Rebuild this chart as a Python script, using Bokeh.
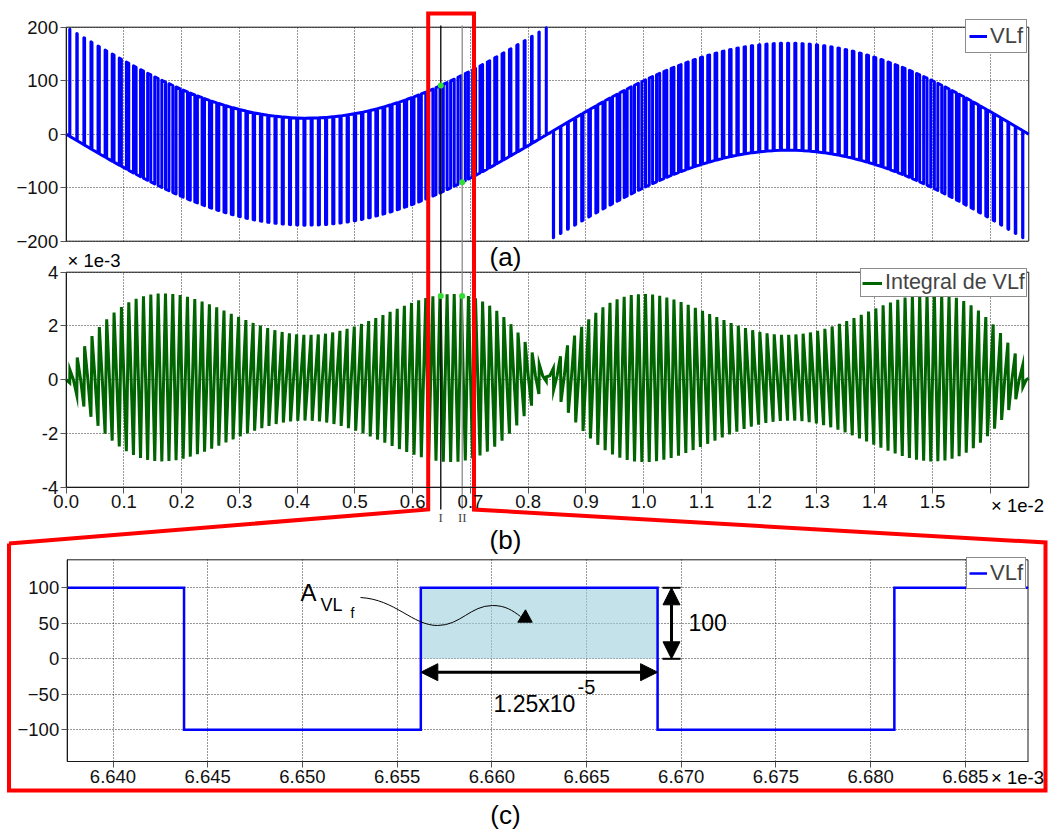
import numpy as np
from bokeh.plotting import figure
from bokeh.models import (Range1d, LinearAxis, Grid, FixedTicker, CustomJSTickFormatter,
                          BasicTickFormatter, Legend, LegendItem, Label, Arrow, NormalHead)
from bokeh.core.properties import value
from bokeh.embed import file_html
from bokeh.resources import INLINE

# ---------------- values ----------------
V_DC = 200.0          # rail of the switched voltage (V)
V_PEAK = 170.0        # peak of the sinusoidal output (V)
F_LINE = 60.0         # line frequency (Hz)
T_SW = 125e-6         # switching period seen in (a)/(b) (s)
T_END = 1.0 / 60.0    # end of the time axis (s)

t_ticks = [0.000, 0.001, 0.002, 0.003, 0.004, 0.005, 0.006, 0.007, 0.008,
           0.009, 0.010, 0.011, 0.012, 0.013, 0.014, 0.015, 0.016]
a_ticks = [-200, -100, 0, 100, 200]
b_ticks = [-0.004, -0.002, 0.0, 0.002, 0.004]

cursor_t = [0.006486, 0.006857]
cursor_labels = ["I", "II"]
cursor_colors = ["#000000", "#8c8c8c"]
dot_a = [91.0, -90.0]
dot_b = [0.00311, 0.00311]
zoom_t = [0.006268, 0.007061]

c_edges = [0.00664375, 0.00665625, 0.00666875, 0.00668125]
c_levels = [100, -100, 100, -100, 100]
c_xticks = [0.006640, 0.006645, 0.006650, 0.006655, 0.006660,
            0.006665, 0.006670, 0.006675, 0.006680, 0.006685]
c_yticks = [-100, -50, 0, 50, 100]
area_t = [0.00665625, 0.00666875]
area_v = [0.0, 100.0]

# ---------------- canvas geometry ----------------
W, H = 1048, 833


def xrange_from(v1, p1, v2, p2):
    k = (v2 - v1) / (p2 - p1)
    return Range1d(start=v1 - p1 * k, end=v1 + (W - p1) * k)


def yrange_from(v1, p1, v2, p2):
    k = (v2 - v1) / (p2 - p1)
    return Range1d(start=v1 + (H - p1) * k, end=v1 - p1 * k)


def x_at(r, X):
    return r.start + X / W * (r.end - r.start)


def y_at(r, Y):
    return r.end - Y / H * (r.end - r.start)


def x_px(r, v):
    return (v - r.start) / (r.end - r.start) * W


rt = xrange_from(0.0, 65.7, 0.015, 932.0)
ra = yrange_from(200, 26.7, -200, 240.7)
rb = yrange_from(0.004, 271.7, -0.004, 486.7)
rtc = xrange_from(0.006640, 112.5, 0.006685, 964.9)
rc = yrange_from(100, 587.3, -100, 729.3)

c_left, c_right = x_at(rtc, 66.7), x_at(rtc, 1027.5)
c_top, c_bot = y_at(rc, 559.3), y_at(rc, 761.0)

# ---------------- waveforms ----------------


def v_out(t):
    return V_PEAK * np.sin(2 * np.pi * F_LINE * t)


pts = []
k = 0
while k * T_SW < T_END:
    t0 = k * T_SW
    tcen = t0 + T_SW / 2
    vc = v_out(tcen)
    half = abs(vc) / V_DC * T_SW / 2
    rail = V_DC if vc >= 0 else -V_DC
    t_on, t_off = tcen - half, tcen + half
    pts.append((t0, -v_out(t0)))
    if t_on < T_END:
        pts.append((t_on, -v_out(t_on)))
        pts.append((t_on, rail - v_out(t_on)))
        te = min(t_off, T_END)
        pts.append((te, rail - v_out(te)))
        if t_off < T_END:
            pts.append((t_off, -v_out(t_off)))
    k += 1
pts.append((T_END, -v_out(T_END)))
ta = np.array([q[0] for q in pts])
va = np.array([q[1] for q in pts])
ib = np.concatenate([[0.0], np.cumsum(0.5 * (va[1:] + va[:-1]) * np.diff(ta))])

xc_line = [c_left]
yc_line = [c_levels[0]]
for i, e in enumerate(c_edges):
    xc_line += [e, e]
    yc_line += [c_levels[i], c_levels[i + 1]]
xc_line.append(c_right)
yc_line.append(c_levels[-1])

# ---------------- figure ----------------
p = figure(width=W, height=H, x_range=Range1d(0, W), y_range=Range1d(H, 0),
           x_axis_type=None, y_axis_type=None, toolbar_location=None,
           output_backend="svg", min_border=0, outline_line_color=None,
           background_fill_color="white", border_fill_color="white")
p.title.visible = False
p.extra_x_ranges = {"t": rt, "tc": rtc}
p.extra_y_ranges = {"ya": ra, "yb": rb, "yc": rc}

FONT = "Liberation Sans"
GRID_COLOR = "#2e2e2e"
GRID_DASH = "1 2"
GRID_STYLE = dict(grid_line_color=GRID_COLOR, grid_line_dash=GRID_DASH, grid_line_width=1)
HAS_CB = "cross_bounds" in Grid.properties()


def add_grid(dim, ticks, xname, yname, cross):
    if HAS_CB:
        g = Grid(dimension=dim, ticker=FixedTicker(ticks=ticks), x_range_name=xname,
                 y_range_name=yname, cross_bounds=cross, **GRID_STYLE)
        p.add_layout(g)
    else:
        n = len(ticks)
        if dim == 0:
            p.segment(x0=ticks, x1=ticks, y0=[cross[0]] * n, y1=[cross[1]] * n,
                      x_range_name=xname, y_range_name=yname, line_color=GRID_COLOR,
                      line_dash=GRID_DASH, line_width=1, level="underlay")
        else:
            p.segment(x0=[cross[0]] * n, x1=[cross[1]] * n, y0=ticks, y1=ticks,
                      x_range_name=xname, y_range_name=yname, line_color=GRID_COLOR,
                      line_dash=GRID_DASH, line_width=1, level="underlay")


add_grid(0, t_ticks, "t", "ya", (-200.0, 200.0))
add_grid(1, a_ticks, "t", "ya", (0.0, T_END))
add_grid(0, t_ticks, "t", "yb", (-0.004, 0.004))
add_grid(1, b_ticks, "t", "yb", (0.0, T_END))
add_grid(0, c_xticks, "tc", "yc", (c_bot, c_top))
add_grid(1, c_yticks, "tc", "yc", (c_left, c_right))

# panel frames
p.quad(left=[0.0], right=[T_END], bottom=[-200.0], top=[200.0], fill_color=None,
       line_color="#1a1a1a", line_width=1, x_range_name="t", y_range_name="ya")
p.quad(left=[0.0], right=[T_END], bottom=[-0.004], top=[0.004], fill_color=None,
       line_color="#1a1a1a", line_width=1, x_range_name="t", y_range_name="yb")
p.quad(left=[c_left], right=[c_right], bottom=[c_bot], top=[c_top], fill_color=None,
       line_color="#1a1a1a", line_width=1, x_range_name="tc", y_range_name="yc")

AX_STYLE = dict(major_tick_in=0, major_tick_out=6, minor_tick_in=0, minor_tick_out=0,
                axis_line_color="#1a1a1a", major_tick_line_color="#555555",
                major_label_text_font=FONT, major_label_text_font_size="18.5px",
                major_label_text_color="#111111", major_label_standoff=2)

p.add_layout(LinearAxis(x_range_name="t", y_range_name="ya", fixed_location=0.0,
                        bounds=(-200, 200), ticker=FixedTicker(ticks=a_ticks),
                        formatter=BasicTickFormatter(), **AX_STYLE), "left")
p.add_layout(LinearAxis(x_range_name="t", y_range_name="yb", fixed_location=0.0,
                        bounds=(-0.004, 0.004), ticker=FixedTicker(ticks=b_ticks),
                        formatter=CustomJSTickFormatter(code="return Math.round(tick*1000).toString();"),
                        **AX_STYLE), "left")
p.add_layout(LinearAxis(x_range_name="t", y_range_name="yb", fixed_location=-0.004,
                        bounds=(0.0, T_END), ticker=FixedTicker(ticks=t_ticks),
                        formatter=CustomJSTickFormatter(
                            code="return tick > 0.01555 ? '' : (tick*100).toFixed(1);"),
                        **AX_STYLE), "below")
p.add_layout(LinearAxis(x_range_name="tc", y_range_name="yc", fixed_location=c_left,
                        bounds=(c_bot, c_top), ticker=FixedTicker(ticks=c_yticks),
                        formatter=BasicTickFormatter(), **AX_STYLE), "left")
p.add_layout(LinearAxis(x_range_name="tc", y_range_name="yc", fixed_location=c_bot,
                        bounds=(c_left, c_right), ticker=FixedTicker(ticks=c_xticks),
                        formatter=CustomJSTickFormatter(code="return (tick*1000).toFixed(3);"),
                        **AX_STYLE), "below")

# shaded area in (c)
p.quad(left=[area_t[0]], right=[area_t[1]], bottom=[area_v[0]], top=[area_v[1]],
       fill_color="#9ccfdc", fill_alpha=0.6, line_color=None,
       x_range_name="tc", y_range_name="yc")

# data
r_a = p.line(ta, va, x_range_name="t", y_range_name="ya", line_color="#0000ff",
             line_width=3, line_join="round")
r_b = p.line(ta, ib, x_range_name="t", y_range_name="yb", line_color="#006400",
             line_width=3, line_join="miter")
r_c = p.line(xc_line, yc_line, x_range_name="tc", y_range_name="yc", line_color="#0000ff",
             line_width=2.5, line_join="miter")

# cursors
for tt, col in zip(cursor_t, cursor_colors):
    p.segment(x0=[tt], x1=[tt], y0=[25], y1=[509], x_range_name="t",
              line_color=col, line_width=1.3)
p.scatter(x=cursor_t, y=dot_a, x_range_name="t", y_range_name="ya", size=6,
          fill_color="#33dd33", line_color=None)
p.scatter(x=cursor_t, y=dot_b, x_range_name="t", y_range_name="yb", size=6,
          fill_color="#33dd33", line_color=None)


def text(X, Y, s, size, align="left", baseline="middle", font=FONT, color="black"):
    p.add_layout(Label(x=X, y=Y, text=s, text_font=font,
                       text_font_size=f"{size}px", text_align=align,
                       text_baseline=baseline, text_color=color))


for tt, lab in zip(cursor_t, cursor_labels):
    p.add_layout(Label(x=tt, y=517, x_range_name="t", text=lab,
                       text_font="Liberation Serif", text_font_size="13px",
                       text_align="center", text_baseline="middle"))

# legends
LEG = dict(orientation="vertical", spacing=0, margin=0,
           label_standoff=3, label_text_font=FONT,
           border_line_color="#1a1a1a", border_line_width=1,
           background_fill_color="white", background_fill_alpha=1.0)


def add_legend(lbl, rend, X_left, Y_bottom, pad, size, gw=18, lh=20):
    lg = Legend(items=[LegendItem(label=value(lbl), renderers=[rend])],
                location=(X_left, H - Y_bottom), padding=pad,
                label_height=lh, glyph_height=20, glyph_width=gw,
                label_text_font_size=f"{size}px", **LEG)
    p.add_layout(lg)


add_legend("VLf", r_a, 965, 53.3, 3, 22, lh=24)
add_legend("Integral de VLf", r_b, 860, 297.3, 1, 21.5, gw=20)
add_legend("VLf", r_c, 966, 589, 2, 22)

# axis captions
text(67, 260, "× 1e-3", 18.5)
text(1043.5, 505, "× 1e-2", 18.5, align="right")
text(1043.5, 777, "× 1e-3", 18.5, align="right")
text(505, 256, "(a)", 26, align="center")
text(505, 539, "(b)", 26, align="center")
text(505, 814, "(c)", 26, align="center")

# annotations in (c)
text(300, 592, "A", 24)
text(320, 604, "VL", 18)
text(350, 612, "f", 14)
text(688, 622, "100", 23)
text(493, 703, "1.25x10", 23)
text(577, 686, "-5", 20)

# wavy pointer
bz = dict(line_color="black", line_width=1)
p.bezier(x0=[360], y0=[597], x1=[437], y1=[625],
         cx0=[395], cy0=[599], cx1=[412], cy1=[625], **bz)
p.bezier(x0=[437], y0=[625], x1=[492], y1=[605],
         cx0=[460], cy0=[625], cx1=[470], cy1=[605], **bz)
p.bezier(x0=[492], y0=[605], x1=[520], y1=[616],
         cx0=[505], cy0=[605], cx1=[512], cy1=[610], **bz)
p.patch(x=[517.3, 531.7, 525.0], y=[621.7, 621.7, 609.3],
        fill_color="black", line_color="black")

# double arrows
x_arrow = x_at(rtc, 671.0)
cap = x_at(rtc, 680.0) - x_arrow
p.add_layout(Arrow(start=NormalHead(size=17, fill_color="black", line_color="black"),
                   end=NormalHead(size=17, fill_color="black", line_color="black"),
                   x_start=x_arrow, y_start=area_v[0], x_end=x_arrow, y_end=area_v[1],
                   x_range_name="tc", y_range_name="yc", line_width=3, line_color="black"))
p.segment(x0=[x_arrow - cap, x_arrow - cap], x1=[x_arrow + cap, x_arrow + cap],
          y0=area_v, y1=area_v, x_range_name="tc", y_range_name="yc",
          line_color="black", line_width=2)
y_harrow = y_at(rc, 671.7)
p.add_layout(Arrow(start=NormalHead(size=17, fill_color="black", line_color="black"),
                   end=NormalHead(size=17, fill_color="black", line_color="black"),
                   x_start=area_t[0], y_start=y_harrow, x_end=area_t[1], y_end=y_harrow,
                   x_range_name="tc", y_range_name="yc", line_width=3, line_color="black"))

# red zoom frame and connectors
zl, zr = x_px(rt, zoom_t[0]), x_px(rt, zoom_t[1])
red_x = [8.5, zl, zl, zr, zr, 1045, 1045, 8.5, 8.5]
red_y = [543, 509, 13, 13, 509, 542, 790, 790, 543]
p.line(red_x, red_y, line_color="#ff0000", line_width=4, line_join="miter")

open("out.html", "w").write(file_html(p, INLINE, "VLf"))
